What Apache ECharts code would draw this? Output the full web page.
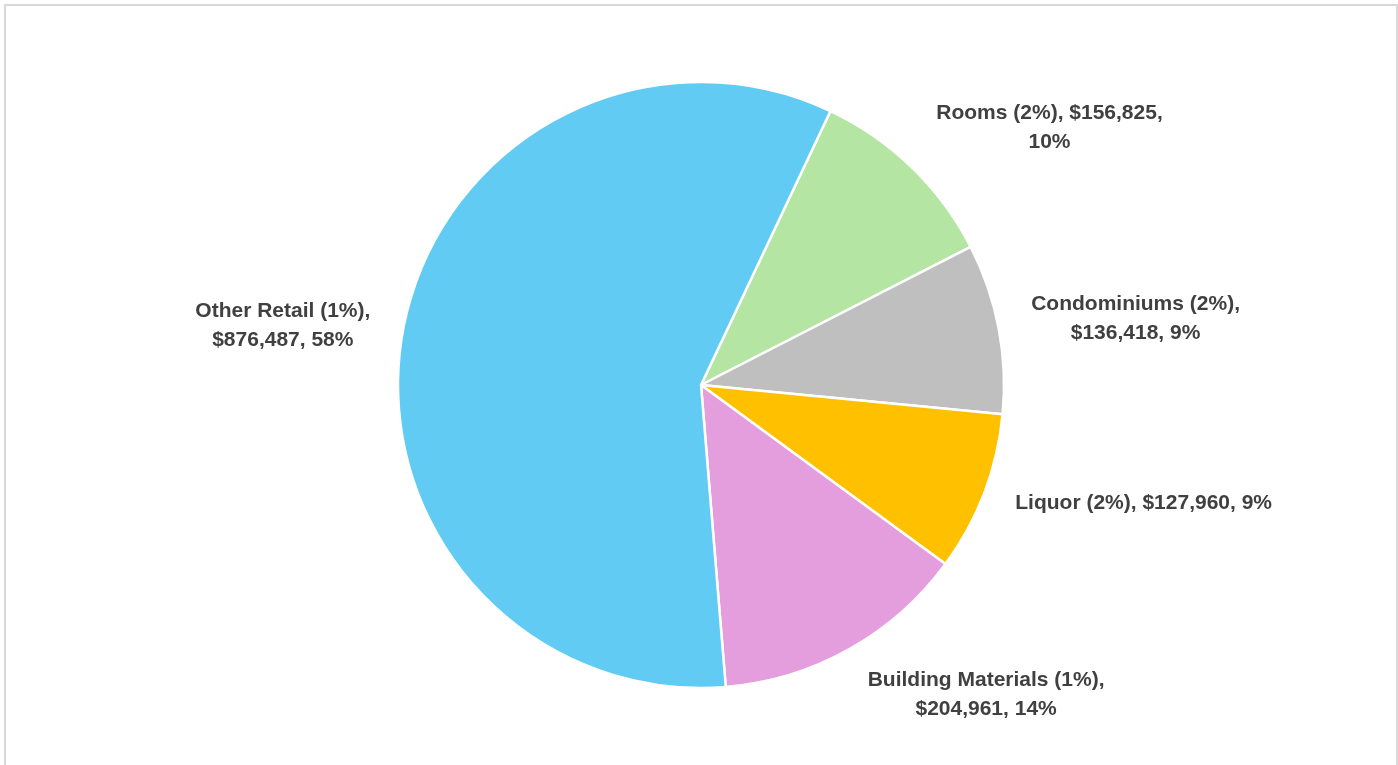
<!DOCTYPE html>
<html>
<head>
<meta charset="utf-8">
<script src="https://cdn.jsdelivr.net/npm/echarts@6/dist/echarts.min.js"></script>
<style>
  html, body { margin: 0; padding: 0; background: #fff; }
  #chart { position: absolute; left: 0; top: 0; width: 1398px; height: 765px; }
  #frame { position: absolute; left: 4px; top: 4px; width: 1390px; height: 800px; border: 2px solid #d9d9d9; pointer-events: none; }
</style>
</head>
<body>
<div id="chart"></div>
<div id="frame"></div>
<script>
// Data (clockwise from the Rooms slice)
const categories = ['Rooms', 'Condominiums', 'Liquor', 'Building Materials', 'Other Retail'];
const rates = ['2%', '2%', '2%', '1%', '1%'];
const values = [156825, 136418, 127960, 204961, 876487];
const colors = ['#B4E5A2', '#BFBFBF', '#FFC000', '#E59EDD', '#61CBF3'];
// where each label wraps: after 'value', after 'rate', or 'none'
const labelWrap = ['value', 'rate', 'none', 'rate', 'rate'];

// layout tweaks (vertical label nudges, px)
const labelNudgeY = [-20, -4, 0, 21, 0];

function fmtMoney(v) { return '$' + v.toLocaleString('en-US'); }

const chart = echarts.init(document.getElementById('chart'), null, { renderer: 'canvas' });

const seriesData = categories.map((c, i) => ({
  name: c,
  value: values[i],
  itemStyle: { color: colors[i] }
}));

chart.setOption({
  animation: false,
  series: [{
    type: 'pie',
    center: [701, 385],
    radius: 303,
    startAngle: 64.7,
    clockwise: true,
    avoidLabelOverlap: false,
    data: seriesData,
    itemStyle: { borderColor: '#ffffff', borderWidth: 2.5 },
    label: {
      show: true,
      position: 'outside',
      fontFamily: 'Liberation Sans',
      fontWeight: 'bold',
      fontSize: 21,
      lineHeight: 29,
      color: '#404040',
      formatter: function (p) {
        const i = p.dataIndex;
        const name = p.name + ' (' + rates[i] + ')';
        const val = fmtMoney(p.value);
        const pct = p.percent.toFixed(0) + '%';
        if (labelWrap[i] === 'value') return name + ', ' + val + ',\n' + pct;
        if (labelWrap[i] === 'rate') return name + ',\n' + val + ', ' + pct;
        return name + ', ' + val + ', ' + pct;
      }
    },
    labelLine: { show: false, length: 28, length2: 0 },
    labelLayout: function (p) {
      const w = p.labelRect.width;
      return {
        align: 'center',
        dx: p.align === 'right' ? -w / 2 : w / 2,
        dy: labelNudgeY[p.dataIndex] || 0
      };
    },
    emphasis: { disabled: true }
  }]
});
</script>
</body>
</html>
